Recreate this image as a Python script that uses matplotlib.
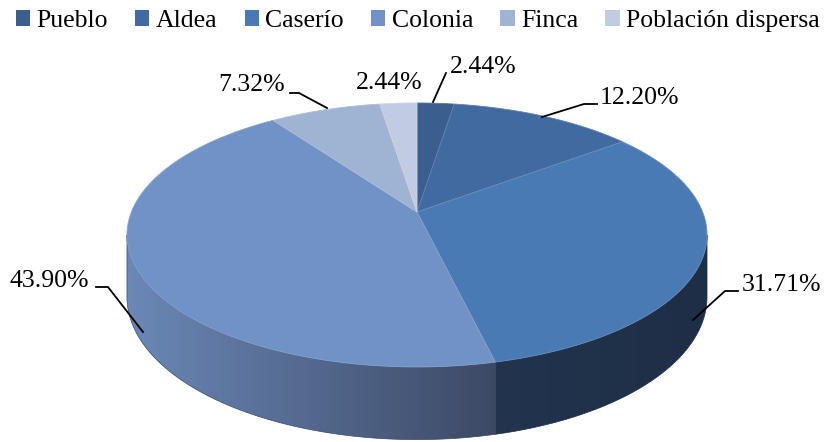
import numpy as np
import matplotlib as mpl
mpl.use('Agg')
import matplotlib.pyplot as plt
from matplotlib.patches import Polygon, Patch
from matplotlib.colors import to_rgb

categories = ['Pueblo', 'Aldea', 'Caserío', 'Colonia', 'Finca', 'Población dispersa']
values = [2.44, 12.20, 31.71, 43.90, 7.32, 2.44]
labels = ['2.44%', '12.20%', '31.71%', '43.90%', '7.32%', '2.44%']

colors = ['#3a5e8e', '#416ba0', '#4a7ab3', '#7092c4', '#9fb3d3', '#c1cce3']
# side wall colours (left end, right end of the visible part)
side_colors = {2: ('#22344e', '#1e2e46'), 3: ('#6b88b7', '#3c4965')}

# pseudo perspective geometry (pixels)
X0, Y0 = 417, 212
A, B = 285.6, 128.0
K = 0.174
D = 60.0

# label positions (text left x, baseline y) and leader lines
label_pos = [(450, 73), (600, 104), (742, 291), (10, 287), (218, 91), (356, 89)]
leaders = [
    [(433, 102), (446, 73)],
    [(542, 117), (584, 104), (597, 104)],
    [(693, 320), (725, 291), (738, 291)],
    [(143, 332), (108, 287), (96, 287)],
    [(327, 108), (299, 93), (290, 93)],
    None,
]


def proj(t, drop=0.0):
    u, v = np.cos(t), np.sin(t)
    w = 1 + K * v
    return X0 + A * u / w, Y0 + (-B * v + drop) / w


def mix(c1, c2, f):
    a, b = np.array(to_rgb(c1)), np.array(to_rgb(c2))
    return tuple(a + (b - a) * f)


plt.rcParams['font.family'] = ['Liberation Serif', 'DejaVu Serif']
fig = plt.figure(figsize=(8.28, 4.42), dpi=100)
ax = fig.add_axes([0, 0, 1, 1])
ax.set_xlim(0, 828)
ax.set_ylim(442, 0)
ax.axis('off')

total = sum(values)
cum = np.concatenate([[0], np.cumsum(values)])
bounds = np.radians(90 - 360 * cum / total)

t_left = np.radians(-180) + np.arcsin(K)
t_right = -np.arcsin(K)

# side walls, gradient clipped to each wall
for i, (ts, te) in enumerate(zip(bounds[:-1], bounds[1:])):
    if i not in side_colors:
        continue
    lo, hi = max(te, t_left), min(ts, t_right)
    if lo >= hi:
        continue
    tt = np.linspace(lo, hi, 200)
    top = [proj(t) for t in tt]
    bot = [proj(t, D) for t in tt[::-1]]
    pts = np.array(top + bot)
    wall = Polygon(pts, closed=True, facecolor='none', edgecolor='none')
    ax.add_patch(wall)
    cl, cr = side_colors[i]
    grad = np.array([mix(cl, cr, f) for f in np.linspace(0, 1, 256)])[None, :, :]
    x0, x1 = pts[:, 0].min(), pts[:, 0].max()
    y0, y1 = pts[:, 1].min(), pts[:, 1].max()
    im = ax.imshow(grad, extent=(x0 - 1, x1 + 1, y1 + 1, y0 - 1), aspect='auto',
                   interpolation='bilinear', zorder=1)
    im.set_clip_path(wall)
    ax.add_patch(Polygon(pts, closed=True, facecolor='none', edgecolor=cr, lw=0.5, zorder=1))

# top face
for i, (ts, te) in enumerate(zip(bounds[:-1], bounds[1:])):
    tt = np.linspace(ts, te, max(int(abs(np.degrees(ts - te))), 2) + 1)
    pts = [(X0, Y0)] + [proj(t) for t in tt]
    ax.add_patch(Polygon(pts, closed=True, facecolor=colors[i],
                         edgecolor=mix(colors[i], '#ffffff', 0.15), lw=0.6, zorder=2))

ax.set_xlim(0, 828)
ax.set_ylim(442, 0)

# labels
for i, lab in enumerate(labels):
    x, y = label_pos[i]
    ax.text(x, y, lab, fontsize=18.5, va='baseline', ha='left', color='black', zorder=3)
    if leaders[i]:
        xs, ys = zip(*leaders[i])
        ax.plot(xs, ys, color='black', lw=1.3, zorder=3)

handles = [Patch(facecolor=c, edgecolor='none') for c in colors]
fig.legend(handles, categories, loc='upper left', bbox_to_anchor=(16 / 828, 1 - 10 / 442),
           ncol=6, frameon=False, fontsize=18.5, handlelength=0.55, handleheight=0.55,
           handletextpad=0.25, columnspacing=1.06, borderpad=0, borderaxespad=0)

fig.savefig('out.png', dpi=100)
